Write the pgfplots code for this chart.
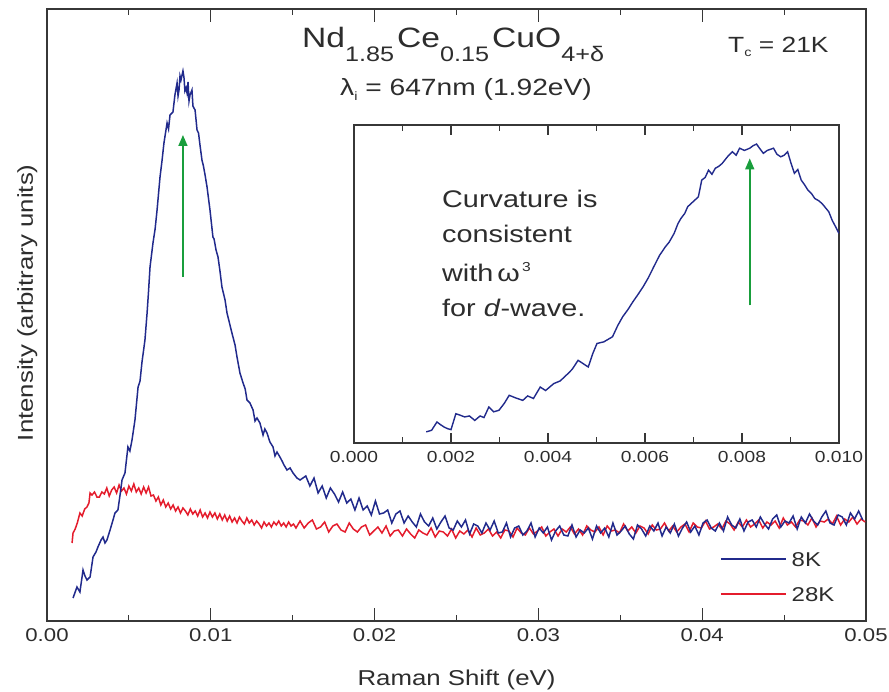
\documentclass[border=0pt]{standalone}
\usepackage{fontspec}
\setmainfont{Liberation Sans}[FakeStretch=1.2]
\usepackage{pgfplots}
\pgfplotsset{compat=1.18}
\usetikzlibrary{arrows.meta}
\definecolor{bl}{RGB}{33,42,140}
\definecolor{rd}{RGB}{228,28,44}
\definecolor{gr}{RGB}{25,158,60}
\definecolor{tx}{RGB}{45,45,45}
\definecolor{ax}{RGB}{55,55,55}
\begin{document}
\begin{tikzpicture}[every node/.append style={text=tx}]
\begin{axis}[
  name=main, at={(0pt,0pt)}, anchor=south west,
  width=819pt, height=612pt, scale only axis,
  xmin=0, xmax=0.05, ymin=0, ymax=612,
  xtick={0,0.01,0.02,0.03,0.04,0.05}, minor x tick num=1,
  ytick=\empty,
  scaled x ticks=false,
  major tick length=13pt, minor tick length=6pt,
  every tick/.style={line width=1.2pt, color=ax},
  axis line style={line width=1.3pt, color=ax},
  xticklabel style={font=\fontsize{18.5}{20}\selectfont, anchor=north, inner sep=0pt,
     text height=14pt, text depth=0pt, yshift=-6pt,
     /pgf/number format/.cd, fixed, fixed zerofill, precision=2, assume math mode=true},
  xlabel={Raman Shift (eV)},
  xlabel style={font=\fontsize{21.5}{24}\selectfont, at={(axis description cs:0.5,0)}, anchor=base, yshift=-64pt, inner sep=0pt},
  ylabel={Intensity (arbitrary units)},
  ylabel style={font=\fontsize{21.5}{24}\selectfont, at={(axis description cs:-0.0171,0.52)}, anchor=base, inner sep=0pt},
  legend style={at={(0.8217,0.1143)}, anchor=north west, draw=none, fill=none, inner sep=0pt,
     font=\fontsize{20}{22}\selectfont, row sep=19pt, column sep=5pt,
     nodes={inner sep=0pt, text height=15pt, text depth=1pt}},
  legend cell align=left,
  reverse legend,
  legend image code/.code={\draw[#1, line width=1.5pt] (0pt,0pt) -- (65pt,0pt);},
]
% 28K
\addplot[rd, line width=1.5pt] coordinates {
(0.00153,78) (0.00159,88) (0.00172,92) (0.00185,98) (0.00201,108) (0.00215,105) (0.00230,112)
(0.00244,114) (0.00256,118) (0.00263,128) (0.00275,126) (0.00290,129) (0.00305,124)
(0.00320,124) (0.00335,129) (0.00350,127) (0.00365,133) (0.00380,125) (0.00395,131) (0.00410,134)
(0.00425,128) (0.00440,136) (0.00455,130) (0.00470,133) (0.00485,127) (0.00500,135) (0.00515,130)
(0.00530,137) (0.00545,129) (0.00560,133) (0.00575,127) (0.00590,134) (0.00605,128) (0.00620,134)
(0.00635,125) (0.00650,126) (0.00665,120) (0.00680,124) (0.00695,116) (0.00710,121) (0.00725,114)
(0.00740,118) (0.00755,112) (0.00770,116) (0.00785,110) (0.00800,114) (0.00815,108) (0.00830,113)
(0.00845,110) (0.00860,106) (0.00875,112) (0.00890,107) (0.00905,110) (0.00920,105) (0.00935,111)
(0.00950,104) (0.00965,108) (0.00980,103) (0.00995,109) (0.01010,104) (0.01025,108) (0.01040,102)
(0.01055,107) (0.01070,101) (0.01085,106) (0.01100,100) (0.01115,105) (0.01130,99) (0.01145,103)
(0.01160,98) (0.01175,104) (0.01190,100) (0.01205,97) (0.01220,103) (0.01235,98) (0.01250,101)
(0.01265,96) (0.01280,100) (0.01295,97) (0.01310,93) (0.01325,99) (0.01340,95) (0.01355,98)
(0.01370,94) (0.01385,99) (0.01400,96) (0.01415,100) (0.01430,95) (0.01445,98) (0.01460,94)
(0.01475,99) (0.01490,95) (0.01505,97) (0.01520,93)
(0.01545,100) (0.01570,93) (0.01595,98) (0.01620,101) (0.01645,92) (0.01670,94) (0.01695,99)
(0.01720,89) (0.01745,95) (0.01770,97) (0.01795,91) (0.01820,89) (0.01845,98) (0.01870,92)
(0.01895,89) (0.01920,94) (0.01945,96) (0.01970,86) (0.01995,90) (0.02020,94) (0.02045,88)
(0.02070,95) (0.02095,85) (0.02120,90) (0.02145,91) (0.02170,85) (0.02195,92) (0.02220,87)
(0.02245,83) (0.02270,91) (0.02295,88) (0.02320,86) (0.02345,93) (0.02370,84) (0.02395,90)
(0.02420,89) (0.02445,85) (0.02470,92) (0.02495,83) (0.02520,90) (0.02545,87) (0.02570,91)
(0.02595,84) (0.02620,93) (0.02645,86) (0.02670,88) (0.02695,92) (0.02720,85) (0.02745,89)
(0.02770,83) (0.02795,91) (0.02820,90) (0.02845,84) (0.02870,93) (0.02895,88) (0.02920,86)
(0.02945,93) (0.02970,87) (0.02995,90) (0.03020,94) (0.03045,85) (0.03070,89) (0.03095,92)
(0.03120,85) (0.03145,92) (0.03170,89) (0.03195,94) (0.03220,87) (0.03245,92) (0.03270,86)
(0.03295,95) (0.03320,91) (0.03345,89) (0.03370,94) (0.03395,86) (0.03420,95) (0.03445,90)
(0.03470,91) (0.03495,88) (0.03520,97) (0.03545,90) (0.03570,94) (0.03595,88) (0.03620,95)
(0.03645,93) (0.03670,87) (0.03695,96) (0.03720,91) (0.03745,92) (0.03770,98) (0.03795,90)
(0.03820,95) (0.03845,89) (0.03870,94) (0.03895,97) (0.03920,89) (0.03945,98) (0.03970,94)
(0.03995,93) (0.04020,100) (0.04045,92) (0.04070,94) (0.04095,97) (0.04120,92) (0.04145,100)
(0.04170,97) (0.04195,91) (0.04220,99) (0.04245,94) (0.04270,101) (0.04295,94) (0.04320,97)
(0.04345,101) (0.04370,93) (0.04395,99) (0.04420,96) (0.04445,100) (0.04470,93) (0.04495,103)
(0.04520,96) (0.04545,99) (0.04570,94) (0.04595,101) (0.04620,100) (0.04645,96) (0.04670,103)
(0.04695,94) (0.04720,100) (0.04745,99) (0.04770,102) (0.04795,97) (0.04820,105) (0.04845,96)
(0.04870,102) (0.04895,99) (0.04920,104) (0.04945,97) (0.04970,102) (0.04995,99)
};
\addlegendentry{28K}
% 8K
\addplot[bl, line width=1.5pt] coordinates {
(0.00159,23) (0.00183,34) (0.00201,29) (0.00220,51) (0.00232,45) (0.00244,41) (0.00263,44)
(0.00281,64) (0.00299,69) (0.00311,74) (0.00330,81) (0.00342,84) (0.00354,78) (0.00366,81)
(0.00385,91) (0.00403,101) (0.00415,108) (0.00433,111) (0.00446,126) (0.00458,141) (0.00476,148)
(0.00494,174) (0.00506,170) (0.00519,181) (0.00537,201) (0.00556,234) (0.00568,240) (0.00580,259)
(0.00598,281) (0.00611,308) (0.00620,330) (0.00629,354) (0.00647,378) (0.00660,392) (0.00672,411)
(0.00690,444) (0.00702,460) (0.00714,478) (0.00733,498) (0.00742,492) (0.00751,506) (0.00769,509)
(0.00781,526) (0.00794,538) (0.00800,525) (0.00806,531) (0.00812,545) (0.00818,541) (0.00830,550)
(0.00836,544) (0.00842,530) (0.00849,533) (0.00855,528) (0.00861,539) (0.00867,520) (0.00873,526)
(0.00885,531) (0.00891,515) (0.00897,513) (0.00904,511) (0.00916,491) (0.00925,488) (0.00934,476)
(0.00946,461) (0.00955,455) (0.00965,446) (0.00977,434) (0.00995,411) (0.01013,384) (0.01020,382)
(0.01032,371) (0.01044,364) (0.01056,350) (0.01068,334) (0.01087,321) (0.01099,308) (0.01117,296)
(0.01129,288) (0.01148,276) (0.01160,264) (0.01178,248) (0.01197,238) (0.01210,232) (0.01221,221)
(0.01239,218) (0.01258,211) (0.01270,200) (0.01282,203) (0.01300,198) (0.01319,186) (0.01330,192)
(0.01343,188) (0.01361,179) (0.01380,174) (0.01392,165) (0.01404,169) (0.01422,164) (0.01435,160)
(0.01447,156) (0.01465,151) (0.01484,153) (0.01502,148) (0.01526,143) (0.01545,141)
(0.01580,145) (0.01605,135) (0.01630,143) (0.01655,128) (0.01680,135) (0.01705,123) (0.01730,133)
(0.01755,127) (0.01780,119) (0.01805,129) (0.01830,118) (0.01855,122) (0.01880,111) (0.01905,123)
(0.01930,111) (0.01955,115) (0.01980,106) (0.02005,120) (0.02030,107) (0.02055,108) (0.02080,111)
(0.02105,98) (0.02130,107) (0.02155,110) (0.02180,98) (0.02205,105) (0.02230,99) (0.02255,94)
(0.02280,107) (0.02305,99) (0.02330,95) (0.02355,103) (0.02380,92) (0.02405,99) (0.02430,105)
(0.02455,93) (0.02480,91) (0.02505,100) (0.02530,94) (0.02555,101) (0.02580,87) (0.02605,97)
(0.02630,95) (0.02655,88) (0.02680,98) (0.02705,91) (0.02730,100) (0.02755,88) (0.02780,89)
(0.02805,98) (0.02830,84) (0.02855,93) (0.02880,95) (0.02905,86) (0.02930,90) (0.02955,98)
(0.02980,84) (0.03005,93) (0.03030,88) (0.03055,94) (0.03080,81) (0.03105,90) (0.03130,95)
(0.03155,86) (0.03180,85) (0.03205,96) (0.03230,84) (0.03255,91) (0.03280,88) (0.03305,93)
(0.03330,82) (0.03355,95) (0.03380,88) (0.03405,93) (0.03430,84) (0.03455,98) (0.03480,86)
(0.03505,90) (0.03530,95) (0.03555,87) (0.03580,82) (0.03605,96) (0.03630,92) (0.03655,85)
(0.03680,95) (0.03705,90) (0.03730,98) (0.03755,85) (0.03780,94) (0.03805,88) (0.03830,97)
(0.03855,85) (0.03880,93) (0.03905,99) (0.03930,89) (0.03955,95) (0.03980,86) (0.04005,98)
(0.04030,101) (0.04055,93) (0.04080,90) (0.04105,98) (0.04130,90) (0.04155,104) (0.04180,96)
(0.04205,93) (0.04230,102) (0.04255,90) (0.04280,99) (0.04305,101) (0.04330,94) (0.04355,104)
(0.04380,97) (0.04405,92) (0.04430,102) (0.04455,106) (0.04480,94) (0.04505,100) (0.04530,98)
(0.04555,105) (0.04580,92) (0.04605,104) (0.04630,98) (0.04655,107) (0.04680,100) (0.04705,96)
(0.04730,104) (0.04755,110) (0.04780,98) (0.04805,96) (0.04830,106) (0.04855,104) (0.04880,96)
(0.04905,108) (0.04930,102) (0.04955,110) (0.04980,101)
};
\addlegendentry{8K}
\draw[gr, line width=1.6pt, -{Triangle[width=9pt,length=11pt]}] (axis cs:0.00830,344) -- (axis cs:0.00830,486);
\end{axis}

\begin{axis}[
  at={(307pt,178pt)}, anchor=south west,
  width=485pt, height=318pt, scale only axis,
  xmin=0, xmax=0.010, ymin=0, ymax=1,
  xtick={0,0.002,0.004,0.006,0.008,0.010}, minor x tick num=1,
  ytick=\empty, scaled x ticks=false,
  major tick length=10pt, minor tick length=6pt,
  every tick/.style={line width=1.1pt, color=ax},
  axis line style={line width=1.3pt, color=ax},
  axis background/.style={fill=white},
  xticklabel style={font=\fontsize{16}{18}\selectfont, anchor=north, inner sep=0pt,
     text height=12pt, text depth=0pt, yshift=-7pt,
     /pgf/number format/.cd, fixed, fixed zerofill, precision=3, assume math mode=true},
]
\addplot[bl, line width=1.4pt] coordinates {
(0.00149,0.035) (0.00160,0.040) (0.00171,0.066) (0.00178,0.058) (0.00186,0.050) (0.00193,0.045)
(0.00200,0.042) (0.00210,0.092) (0.00218,0.088) (0.00228,0.082) (0.00238,0.085) (0.00249,0.071)
(0.00260,0.085) (0.00268,0.080) (0.00278,0.113) (0.00288,0.098) (0.00299,0.103) (0.00310,0.125)
(0.00320,0.150) (0.00333,0.142) (0.00348,0.134) (0.00358,0.148) (0.00370,0.140) (0.00384,0.176)
(0.00395,0.165) (0.00412,0.187) (0.00425,0.195) (0.00441,0.218) (0.00450,0.232) (0.00462,0.260)
(0.00472,0.250) (0.00483,0.239) (0.00492,0.280) (0.00501,0.313) (0.00515,0.318) (0.00533,0.334)
(0.00544,0.370) (0.00554,0.397) (0.00565,0.420) (0.00575,0.444) (0.00586,0.468) (0.00596,0.491)
(0.00607,0.520) (0.00618,0.554) (0.00630,0.590) (0.00642,0.617) (0.00650,0.632) (0.00660,0.659)
(0.00668,0.690) (0.00674,0.706) (0.00682,0.722) (0.00688,0.743) (0.00700,0.760) (0.00710,0.774)
(0.00717,0.827) (0.00724,0.835) (0.00731,0.858) (0.00738,0.845) (0.00745,0.864) (0.00752,0.870)
(0.00759,0.879) (0.00770,0.900) (0.00780,0.916) (0.00788,0.905) (0.00795,0.927) (0.00805,0.920)
(0.00816,0.927) (0.00823,0.935) (0.00830,0.940) (0.00837,0.925) (0.00844,0.911) (0.00852,0.920)
(0.00865,0.927) (0.00872,0.908) (0.00880,0.900) (0.00887,0.905) (0.00894,0.916) (0.00901,0.880)
(0.00908,0.848) (0.00915,0.860) (0.00922,0.827) (0.00929,0.812) (0.00936,0.795) (0.00943,0.785)
(0.00950,0.769) (0.00958,0.762) (0.00965,0.753) (0.00972,0.740) (0.00979,0.727) (0.00986,0.700)
(0.00993,0.680) (0.01000,0.659)
};
\draw[gr, line width=1.6pt, -{Triangle[width=9pt,length=11pt]}] (axis cs:0.00816,0.433) -- (axis cs:0.00816,0.895);
\end{axis}

% annotations (positions in pt, origin at lower left of main axis box)
\node[anchor=base west, inner sep=0pt] at (255pt,573pt) {\fontsize{28}{30}\selectfont Nd\raisebox{-14pt}{\fontsize{21}{22}\selectfont 1.85}\hspace{3pt}Ce\raisebox{-14pt}{\fontsize{21}{22}\selectfont 0.15}\hspace{3pt}CuO\raisebox{-14pt}{\fontsize{21}{22}\selectfont 4+δ}};
\node[anchor=base west, inner sep=0pt] at (681pt,568pt) {\fontsize{22}{24}\selectfont T\raisebox{-4pt}{\fontsize{12}{13}\selectfont c} = 21K};
\node[anchor=base west, inner sep=0pt] at (293pt,525pt) {\fontsize{23.5}{26}\selectfont λ\raisebox{-5pt}{\fontsize{12}{13}\selectfont i} = 647nm (1.92eV)};
\node[anchor=base west, inner sep=0pt] at (395pt,413pt) {\fontsize{24}{26}\selectfont Curvature is};
\node[anchor=base west, inner sep=0pt] at (395pt,378pt) {\fontsize{24}{26}\selectfont consistent};
\node[anchor=base west, inner sep=0pt] at (395pt,339pt) {\fontsize{24}{26}\selectfont with\,ω\raisebox{10pt}{\fontsize{13}{14}\selectfont\,3}};
\node[anchor=base west, inner sep=0pt] at (395pt,304pt) {\fontsize{24}{26}\selectfont for \textit{d}-wave.};

\pgfresetboundingbox
\useasboundingbox (-47pt,-70pt) rectangle (842pt,621pt);
\end{tikzpicture}
\end{document}
